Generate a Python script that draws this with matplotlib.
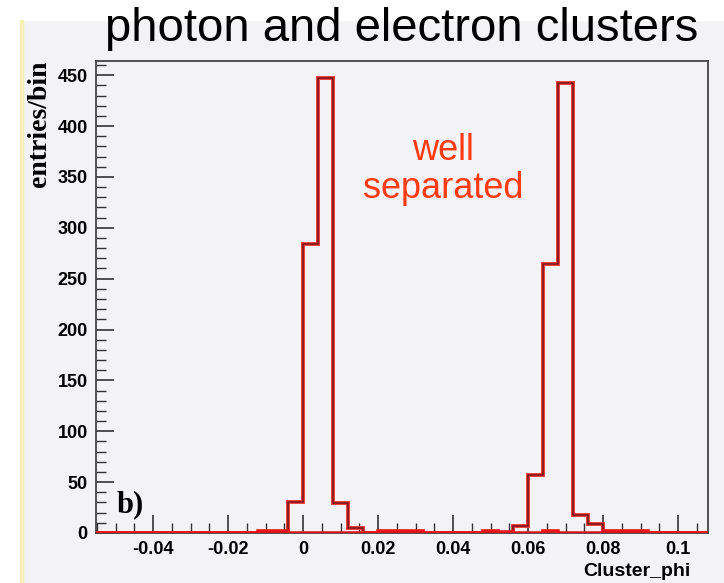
import numpy as np
import matplotlib
matplotlib.use("Agg")
import matplotlib.pyplot as plt
from matplotlib.ticker import MultipleLocator

# ---- data ----
bin_start = -0.056
bin_width = 0.004
n_bins = 41
# main histogram (photon / electron clusters), counts per bin
main_counts = [0]*41
peak1_idx = [13, 14, 15, 16, 17]
peak1_vals = [30, 284, 447, 29, 5]
peak2_idx = [28, 29, 30, 31, 32, 33]
peak2_vals = [7, 57, 264, 442, 18, 9]
# low-level background entries (red)
bg_idx = [11, 12, 19, 20, 21, 26, 27, 30, 34, 35, 36]
bg_vals = [2, 2, 2, 2, 2, 2, 1, 2, 2, 2, 2]

for i, v in zip(peak1_idx + peak2_idx, peak1_vals + peak2_vals):
    main_counts[i] = v
bg_counts = [0]*41
for i, v in zip(bg_idx, bg_vals):
    bg_counts[i] = v

edges = bin_start + bin_width*np.arange(n_bins + 1)

title = "photon and electron clusters"
annotation = "well\nseparated"
ylabel = "entries/bin"
xlabel = "Cluster_phi"
panel_tag = "b)"

# ---- figure ----
bg = "#f3f3f5"
fig = plt.figure(figsize=(7.24, 5.83), dpi=100, facecolor=bg)
# white strip on top and yellowish edge on the left
fig.patches.append(plt.Rectangle((0, 0.965), 1, 0.035, transform=fig.transFigure,
                                 color="white", zorder=0))
fig.patches.append(plt.Rectangle((0, 0), 0.027, 0.965, transform=fig.transFigure,
                                 color="white", zorder=0))
fig.patches.append(plt.Rectangle((0.027, 0), 0.005, 0.965, transform=fig.transFigure,
                                 color="#f7f0b8", zorder=0))

ax = fig.add_axes([0.1326, 0.0858, 0.978 - 0.1326, 0.8954 - 0.0858])
ax.set_facecolor(bg)

ax.stairs(main_counts, edges, color="#f03a3a", lw=2.8, zorder=2)
ax.stairs(main_counts, edges, color="#7a1414", lw=1.1, zorder=3)
ax.stairs(bg_counts, edges, color="#e8141c", lw=2.6, zorder=4)

ax.set_ylim(0, 464)

ax.xaxis.set_major_locator(MultipleLocator(0.02))
ax.xaxis.set_minor_locator(MultipleLocator(0.005))
ax.yaxis.set_major_locator(MultipleLocator(50))
ax.yaxis.set_minor_locator(MultipleLocator(10))
ax.tick_params(which="both", direction="in", top=False, right=False, color="#333333")
ax.tick_params(which="major", length=13, width=1.2)
ax.tick_params(which="minor", length=7, width=1.0)
ax.tick_params(axis="both", labelsize=13, pad=6)
for lab in ax.get_yticklabels():
    lab.set_fontweight("bold")
    lab.set_family("Liberation Sans")
xt = np.arange(-0.04, 0.1001, 0.02)
ax.set_xticks(xt)
ax.set_xticklabels([("%g" % t) if abs(t) > 1e-9 else "0" for t in xt],
                   fontweight="bold", family="Liberation Sans", fontsize=13)
ax.set_xlim(-0.0552, 0.108)
for s in ax.spines.values():
    s.set_color("#444444")
    s.set_linewidth(1.3)

fig.text(0.555, 0.988, title, ha="center", va="top", fontsize=34,
         family="Liberation Sans")
ax.text(0.0373, 357, annotation, ha="center", va="center", fontsize=26,
        color="#ff3a10", family="Liberation Sans", linespacing=1.1)
fig.text(0.055, 0.788, ylabel, rotation=90, ha="center", va="center",
         fontsize=20, fontweight="bold", family="Liberation Serif")
fig.text(0.88, 0.006, xlabel, ha="center", va="bottom", fontsize=14,
         fontweight="bold", family="Liberation Sans")
ax.text(-0.0497, 14, panel_tag, ha="left", va="bottom", fontsize=22,
        fontweight="bold", family="Liberation Serif")

fig.savefig("out.png", dpi=100, facecolor=fig.get_facecolor())
